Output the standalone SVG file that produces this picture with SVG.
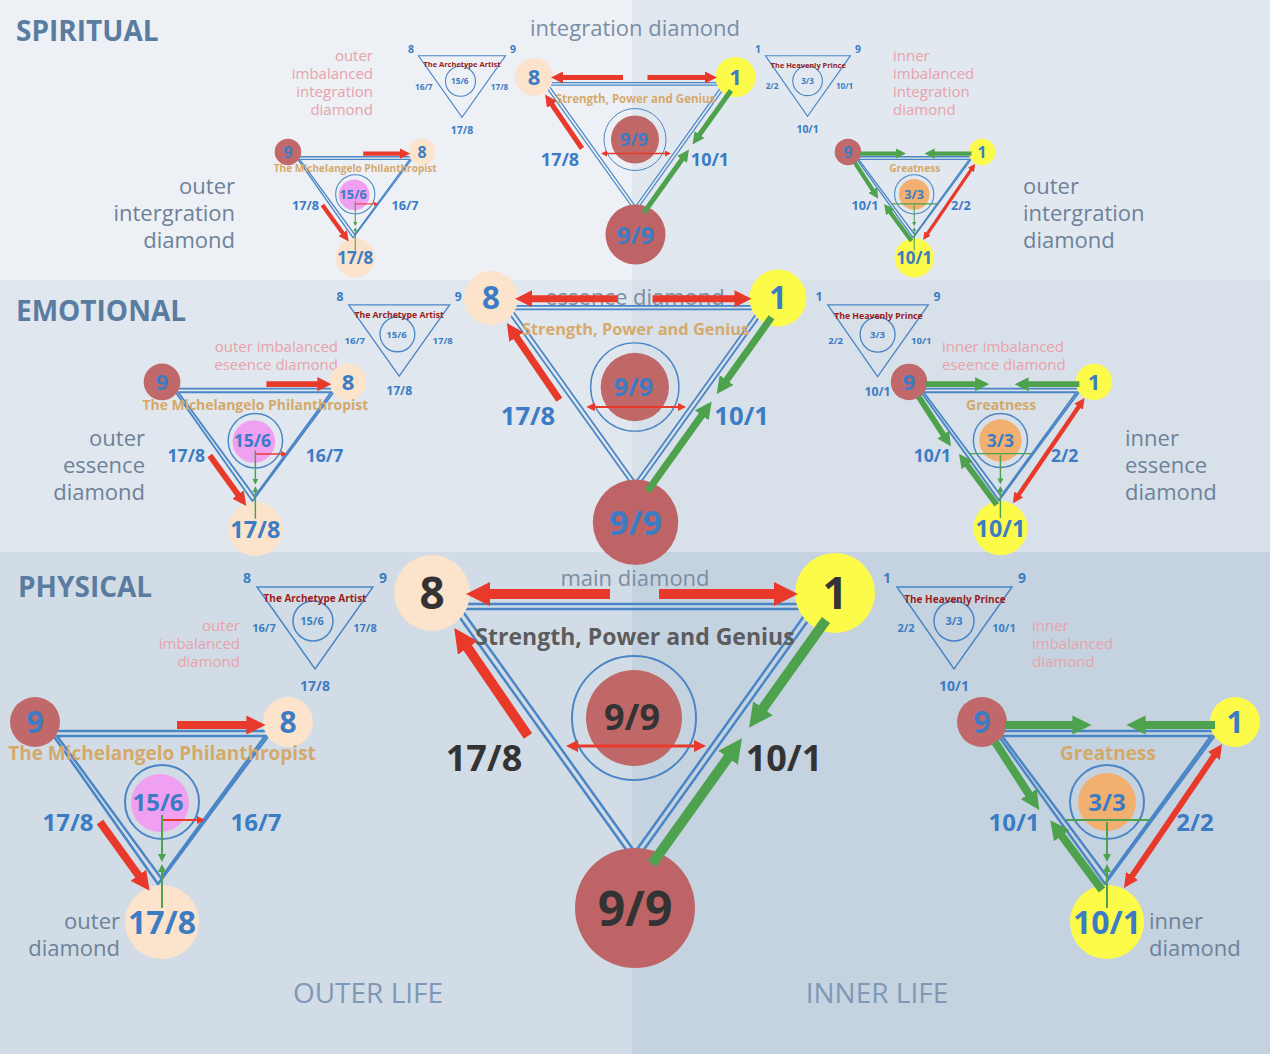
<svg xmlns="http://www.w3.org/2000/svg" xmlns:xlink="http://www.w3.org/1999/xlink" width="1270" height="1054" viewBox="0 0 1270 1054">
<style>
text{font-family:"Open Sans","Liberation Sans",sans-serif;text-anchor:middle}
.b{font-weight:bold}
.blue{fill:#3b7cc4}
.num{fill:var(--n)}
.hd{fill:var(--h)}
.tan{fill:#d4a96a}
.dred{fill:#9b1c1c}
.tri{fill:none;stroke:#4a86c5;stroke-width:2.5}
.tri1{fill:none;stroke:#4a86c5;stroke-width:1.5}
.ring{fill:none;stroke:#4a86c5;stroke-width:2}
.sec{font-weight:bold;font-size:28px;fill:#5a7ca0;text-anchor:start}
.side{font-size:22px;fill:#6d8299}
.pink{font-size:15px;fill:#e8a2aa}
.life{font-size:28px;fill:#7f98b6}
.ttl{font-size:22px;fill:#7a8ea5}
.ra{stroke:#e8392a;fill:none}
.ga{stroke:#4ea24e;fill:none}
.peach{fill:#fbe3cc}
.yel{fill:#fdfb4a}
.rose{fill:#c0686a}
</style>
<defs>
<marker id="mr" viewBox="0 0 10 10" refX="5" refY="5" markerWidth="2.4" markerHeight="2.4" orient="auto-start-reverse"><path d="M0,0L10,5L0,10z" fill="#e8392a"/></marker>
<marker id="mg" viewBox="0 0 10 10" refX="5" refY="5" markerWidth="2.4" markerHeight="2.4" orient="auto-start-reverse"><path d="M0,0L10,5L0,10z" fill="#4ea24e"/></marker>
<marker id="mr2" viewBox="0 0 10 10" refX="5" refY="5" markerWidth="4" markerHeight="4" orient="auto-start-reverse"><path d="M0,0L10,5L0,10z" fill="#e8392a"/></marker>
<marker id="mg2" viewBox="0 0 10 10" refX="5" refY="5" markerWidth="4" markerHeight="4" orient="auto-start-reverse"><path d="M0,0L10,5L0,10z" fill="#4ea24e"/></marker>
<g id="mainD">
<polygon class="tri" points="450,604 820,604 635,862"/>
<polygon class="tri" points="461,609 809,609 635,852"/>
<circle cx="432" cy="593" r="38" class="peach"/>
<circle cx="835" cy="593" r="40" class="yel"/>
<circle cx="634" cy="718" r="62" class="ring"/>
<circle cx="634" cy="718" r="48" fill="#c06868"/>
<circle cx="635" cy="908" r="60" fill="#bf6466"/>
<g>
<line x1="610" y1="594" x2="478" y2="594" class="ra" stroke-width="10" marker-end="url(#mr)"/>
<line x1="659" y1="594" x2="786" y2="594" class="ra" stroke-width="10" marker-end="url(#mr)"/>
<line x1="528" y1="736" x2="461" y2="638" class="ra" stroke-width="10" marker-end="url(#mr)"/>
<line x1="826" y1="620" x2="756" y2="718" class="ga" stroke-width="10" marker-end="url(#mg)"/>
<line x1="652" y1="864" x2="735" y2="748" class="ga" stroke-width="10" marker-end="url(#mg)"/>
<line x1="572" y1="746" x2="700" y2="746" class="ra" stroke-width="3" marker-start="url(#mr2)" marker-end="url(#mr2)"/>
</g>
<text x="432" y="609" class="b num" font-size="44">8</text>
<text x="835" y="609" class="b num" font-size="44">1</text>
<text x="635" y="645" class="b hd" font-size="23">Strength, Power and Genius</text>
<text x="632" y="730" class="b num" font-size="36">9/9</text>
<text x="484" y="771" class="b num" font-size="36">17/8</text>
<text x="784" y="771" class="b num" font-size="36">10/1</text>
<text x="635" y="926" class="b num" font-size="48">9/9</text>
</g>
<g id="outerD">
<polygon class="tri" points="50,731 272,731 158,884"/>
<polygon class="tri" points="57,736 265,736 161,878"/>
<circle cx="35" cy="722" r="25" class="rose"/>
<circle cx="288" cy="722" r="25" class="peach"/>
<circle cx="162" cy="802" r="37" class="ring"/>
<circle cx="160" cy="803" r="29" fill="#f0a0f0"/>
<circle cx="162" cy="922" r="37" class="peach"/>
<line x1="177" y1="725" x2="256" y2="725" class="ra" stroke-width="8" marker-end="url(#mr)"/>
<line x1="100" y1="822" x2="144" y2="883" class="ra" stroke-width="8" marker-end="url(#mr)"/>
<line x1="163" y1="820" x2="201" y2="820" class="ra" stroke-width="2" marker-end="url(#mr2)"/>
<line x1="162" y1="815" x2="162" y2="858" class="ga" stroke-width="2" marker-end="url(#mg2)"/>
<line x1="162" y1="908" x2="162" y2="868" class="ga" stroke-width="2" marker-end="url(#mg2)"/>
<text x="35" y="733" class="b blue" font-size="30">9</text>
<text x="288" y="733" class="b blue" font-size="30">8</text>
<text x="162" y="760" class="b tan" font-size="19">The Michelangelo Philanthropist</text>
<text x="158" y="811" class="b blue" font-size="24">15/6</text>
<text x="68" y="831" class="b blue" font-size="24">17/8</text>
<text x="256" y="831" class="b blue" font-size="24">16/7</text>
<text x="162" y="934" class="b blue" font-size="32">17/8</text>
</g>
<g id="innerD">
<polygon class="tri" points="995,731 1218,731 1105,884"/>
<polygon class="tri" points="1002,736 1211,736 1108,878"/>
<circle cx="982" cy="722" r="25" class="rose"/>
<circle cx="1235" cy="722" r="25" class="yel"/>
<circle cx="1107" cy="802" r="37" class="ring"/>
<circle cx="1107" cy="802" r="29" fill="#f2b070"/>
<circle cx="1107" cy="922" r="37" class="yel"/>
<line x1="1005" y1="725" x2="1082" y2="725" class="ga" stroke-width="8" marker-end="url(#mg)"/>
<line x1="1215" y1="725" x2="1136" y2="725" class="ga" stroke-width="8" marker-end="url(#mg)"/>
<line x1="995" y1="742" x2="1034" y2="802" class="ga" stroke-width="8" marker-end="url(#mg)"/>
<line x1="1102" y1="890" x2="1056" y2="828" class="ga" stroke-width="8" marker-end="url(#mg)"/>
<line x1="1128" y1="882" x2="1218" y2="750" class="ra" stroke-width="6" marker-start="url(#mr)" marker-end="url(#mr)"/>
<line x1="1065" y1="820" x2="1150" y2="820" class="ga" stroke-width="2"/>
<line x1="1107" y1="822" x2="1107" y2="858" class="ga" stroke-width="2" marker-end="url(#mg2)"/>
<line x1="1107" y1="908" x2="1107" y2="868" class="ga" stroke-width="2" marker-end="url(#mg2)"/>
<text x="982" y="733" class="b blue" font-size="30">9</text>
<text x="1235" y="733" class="b blue" font-size="30">1</text>
<text x="1108" y="760" class="b tan" font-size="19">Greatness</text>
<text x="1107" y="811" class="b blue" font-size="24">3/3</text>
<text x="1014" y="831" class="b blue" font-size="24">10/1</text>
<text x="1195" y="831" class="b blue" font-size="24">2/2</text>
<text x="1107" y="934" class="b blue" font-size="32">10/1</text>
</g>
<g id="artist">
<polygon class="tri1" points="257,587 373,587 315,669"/>
<circle cx="313" cy="621" r="20" class="tri1"/>
<text x="247" y="583" class="b blue" font-size="14">8</text>
<text x="383" y="583" class="b blue" font-size="14">9</text>
<text x="315" y="602" class="b dred" font-size="10">The Archetype Artist</text>
<text x="312" y="625" class="b blue" font-size="11">15/6</text>
<text x="264" y="632" class="b blue" font-size="11">16/7</text>
<text x="365" y="632" class="b blue" font-size="11">17/8</text>
<text x="315" y="691" class="b blue" font-size="14">17/8</text>
</g>
<g id="prince">
<polygon class="tri1" points="897,587 1012,587 954,669"/>
<circle cx="954" cy="621" r="20" class="tri1"/>
<text x="887" y="583" class="b blue" font-size="14">1</text>
<text x="1022" y="583" class="b blue" font-size="14">9</text>
<text x="955" y="603" class="b dred" font-size="10">The Heavenly Prince</text>
<text x="954" y="625" class="b blue" font-size="11">3/3</text>
<text x="906" y="632" class="b blue" font-size="11">2/2</text>
<text x="1004" y="632" class="b blue" font-size="11">10/1</text>
<text x="954" y="691" class="b blue" font-size="14">10/1</text>
</g>
</defs>
<g id="background">
<rect x="0" y="0" width="632" height="280" fill="#edf0f5"/>
<rect x="632" y="0" width="638" height="280" fill="#e2e8ef"/>
<rect x="0" y="280" width="632" height="272" fill="#e1e7ee"/>
<rect x="632" y="280" width="638" height="272" fill="#d8e0e9"/>
<rect x="0" y="552" width="632" height="502" fill="#d2dce6"/>
<rect x="632" y="552" width="638" height="502" fill="#c5d3e1"/>
</g>
<g id="labels">
<text x="16" y="41" class="sec">SPIRITUAL</text>
<text x="16" y="321" class="sec">EMOTIONAL</text>
<text x="18" y="597" class="sec">PHYSICAL</text>
<text x="635" y="36" class="ttl">integration diamond</text>
<text x="635" y="305" class="ttl">essence diamond</text>
<text x="635" y="586" class="ttl">main diamond</text>
<text x="368" y="1003" class="life">OUTER LIFE</text>
<text x="877" y="1003" class="life">INNER LIFE</text>
<g class="side"><text x="235" y="194" style="text-anchor:end">outer</text><text x="235" y="221" style="text-anchor:end">intergration</text><text x="235" y="248" style="text-anchor:end">diamond</text></g>
<g class="side"><text x="1023" y="194" style="text-anchor:start">outer</text><text x="1023" y="221" style="text-anchor:start">intergration</text><text x="1023" y="248" style="text-anchor:start">diamond</text></g>
<g class="side"><text x="145" y="446" style="text-anchor:end">outer</text><text x="145" y="473" style="text-anchor:end">essence</text><text x="145" y="500" style="text-anchor:end">diamond</text></g>
<g class="side"><text x="1125" y="446" style="text-anchor:start">inner</text><text x="1125" y="473" style="text-anchor:start">essence</text><text x="1125" y="500" style="text-anchor:start">diamond</text></g>
<g class="side"><text x="120" y="929" style="text-anchor:end">outer</text><text x="120" y="956" style="text-anchor:end">diamond</text></g>
<g class="side"><text x="1149" y="929" style="text-anchor:start">inner</text><text x="1149" y="956" style="text-anchor:start">diamond</text></g>
<g class="pink"><text x="373" y="61" style="text-anchor:end">outer</text><text x="373" y="79" style="text-anchor:end">imbalanced</text><text x="373" y="97" style="text-anchor:end">integration</text><text x="373" y="115" style="text-anchor:end">diamond</text></g>
<g class="pink"><text x="893" y="61" style="text-anchor:start">inner</text><text x="893" y="79" style="text-anchor:start">imbalanced</text><text x="893" y="97" style="text-anchor:start">integration</text><text x="893" y="115" style="text-anchor:start">diamond</text></g>
<g class="pink"><text x="338" y="352" style="text-anchor:end">outer imbalanced</text><text x="338" y="370" style="text-anchor:end">eseence diamond</text></g>
<g class="pink"><text x="942" y="352" style="text-anchor:start">inner imbalanced</text><text x="942" y="370" style="text-anchor:start">eseence diamond</text></g>
<g class="pink"><text x="240" y="631" style="text-anchor:end">outer</text><text x="240" y="649" style="text-anchor:end">imbalanced</text><text x="240" y="667" style="text-anchor:end">diamond</text></g>
<g class="pink"><text x="1032" y="631" style="text-anchor:start">inner</text><text x="1032" y="649" style="text-anchor:start">imbalanced</text><text x="1032" y="667" style="text-anchor:start">diamond</text></g>
</g>
<g id="physical">
<use id="main-physical" xlink:href="#mainD" style="--n:#333;--h:#5c5c5c"/>
<use id="outer-physical" xlink:href="#outerD"/>
<use id="inner-physical" xlink:href="#innerD"/>
<use id="artist-physical" xlink:href="#artist"/>
<use id="prince-physical" xlink:href="#prince"/>
</g>
<g id="emotional">
<use id="main-emotional" xlink:href="#mainD" transform="translate(183.4,-124.2) scale(0.712)" style="--n:#3b7cc4;--h:#d6aa6c"/>
<use id="outer-emotional" xlink:href="#outerD" transform="translate(136.3,-148.7) scale(0.735)"/>
<use id="inner-emotional" xlink:href="#innerD" transform="translate(191.2,-145.8) scale(0.731)"/>
<use id="artist-emotional" xlink:href="#artist" transform="translate(125.1,-205.9) scale(0.87)"/>
<use id="prince-emotional" xlink:href="#prince" transform="translate(43.8,-208.2) scale(0.874)"/>
</g>
<g id="spiritual">
<use id="main-spiritual" xlink:href="#mainD" transform="translate(318,-219.5) scale(0.5)" style="--n:#3b7cc4;--h:#d6aa6c"/>
<use id="outer-spiritual" xlink:href="#outerD" transform="translate(269.4,-230.7) scale(0.53)"/>
<use id="inner-spiritual" xlink:href="#innerD" transform="translate(327.5,-230.7) scale(0.53)"/>
<use id="artist-spiritual" xlink:href="#artist" transform="translate(225.75,-384.5) scale(0.75)"/>
<use id="prince-spiritual" xlink:href="#prince" transform="translate(101.6,-378.7) scale(0.74)"/>
</g>
</svg>
